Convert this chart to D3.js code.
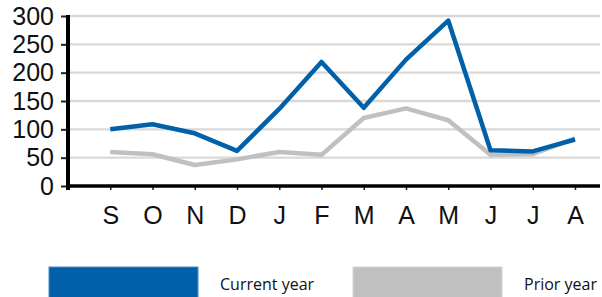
<!DOCTYPE html>
<html>
<head>
<meta charset="utf-8">
<script src="https://cdn.jsdelivr.net/npm/d3@7"></script>
<style>
  body { margin: 0; background: #fff; }
  svg { display: block; }
</style>
</head>
<body>
<div id="chart"></div>
<script>
const months = ['S', 'O', 'N', 'D', 'J', 'F', 'M', 'A', 'M', 'J', 'J', 'A'];
const currentYear = [100, 109, 93, 62, 136, 219, 138, 223, 292, 63, 61, 82];
const priorYear = [60, 56, 37, 47, 60, 55, 120, 137, 116, 55, 56, 84];
const yTicks = [0, 50, 100, 150, 200, 250, 300];
const legendLabels = ['Current year', 'Prior year'];

const width = 602;
const height = 297;
const blue = '#0060a8';
const gray = '#c0c0c0';

const svg = d3.select('#chart')
  .append('svg')
  .attr('width', width)
  .attr('height', height);

// index -1 is the empty slot at the axis origin
const x = d3.scaleLinear().domain([-1, months.length - 1]).range([68, 575]);
const y = d3.scaleLinear().domain([0, 300]).range([186, 16]);

// gridlines
svg.append('g')
  .selectAll('line')
  .data(yTicks.slice(1))
  .enter().append('line')
  .attr('x1', 68)
  .attr('x2', 600)
  .attr('y1', d => y(d))
  .attr('y2', d => y(d))
  .style('stroke', '#d9d9d9')
  .style('stroke-width', 2.3);

// y axis
const yAxis = svg.append('g')
  .attr('transform', 'translate(68,0)')
  .call(d3.axisLeft(y).tickValues(yTicks).tickSize(7).tickPadding(7));
yAxis.select('.domain').remove();
yAxis.selectAll('.tick line').style('stroke', '#222').style('stroke-width', 2);
yAxis.selectAll('.tick text')
  .style('font-family', '"Liberation Sans", Arial, sans-serif')
  .style('font-size', '25px')
  .style('fill', '#111');

// x axis
const xAxis = svg.append('g')
  .attr('transform', 'translate(0,186)')
  .call(d3.axisBottom(x)
    .tickValues(d3.range(-1, months.length))
    .tickSize(4)
    .tickPadding(16)
    .tickFormat(i => i < 0 ? '' : months[i]));
xAxis.select('.domain').remove();
xAxis.selectAll('.tick line').style('stroke', '#222').style('stroke-width', 1.5);
xAxis.selectAll('.tick text')
  .style('font-family', '"Liberation Sans", Arial, sans-serif')
  .style('font-size', '25px')
  .style('fill', '#111');

// axis lines
svg.append('line')
  .attr('x1', 68).attr('x2', 68)
  .attr('y1', y(300) - 1).attr('y2', y(0) + 4)
  .style('stroke', '#000').style('stroke-width', 4);
svg.append('line')
  .attr('x1', 66).attr('x2', 600)
  .attr('y1', y(0)).attr('y2', y(0))
  .style('stroke', '#000').style('stroke-width', 3.5);

const line = d3.line()
  .x((d, i) => x(i))
  .y(d => y(d));

svg.append('path')
  .datum(priorYear)
  .attr('d', line)
  .style('fill', 'none')
  .style('stroke', gray)
  .style('stroke-width', 4.5)
  .style('stroke-linejoin', 'round');

svg.append('path')
  .datum(currentYear)
  .attr('d', line)
  .style('fill', 'none')
  .style('stroke', blue)
  .style('stroke-width', 4.5)
  .style('stroke-linejoin', 'round');

// legend
const legend = svg.append('g')
  .selectAll('g')
  .data(legendLabels)
  .enter().append('g')
  .attr('transform', (d, i) => `translate(${49 + i * 304},267)`);

legend.append('rect')
  .attr('width', 149)
  .attr('height', 32)
  .style('fill', (d, i) => i === 0 ? blue : gray)
  .style('stroke', (d, i) => i === 0 ? '#4f8cc4' : '#d4d4d4')
  .style('stroke-width', 1);

legend.append('text')
  .attr('x', 171)
  .attr('y', 23)
  .text(d => d)
  .style('font-family', '"Open Sans", "Noto Sans", sans-serif')
  .style('font-size', '16px')
  .style('fill', '#111');
</script>
</body>
</html>
